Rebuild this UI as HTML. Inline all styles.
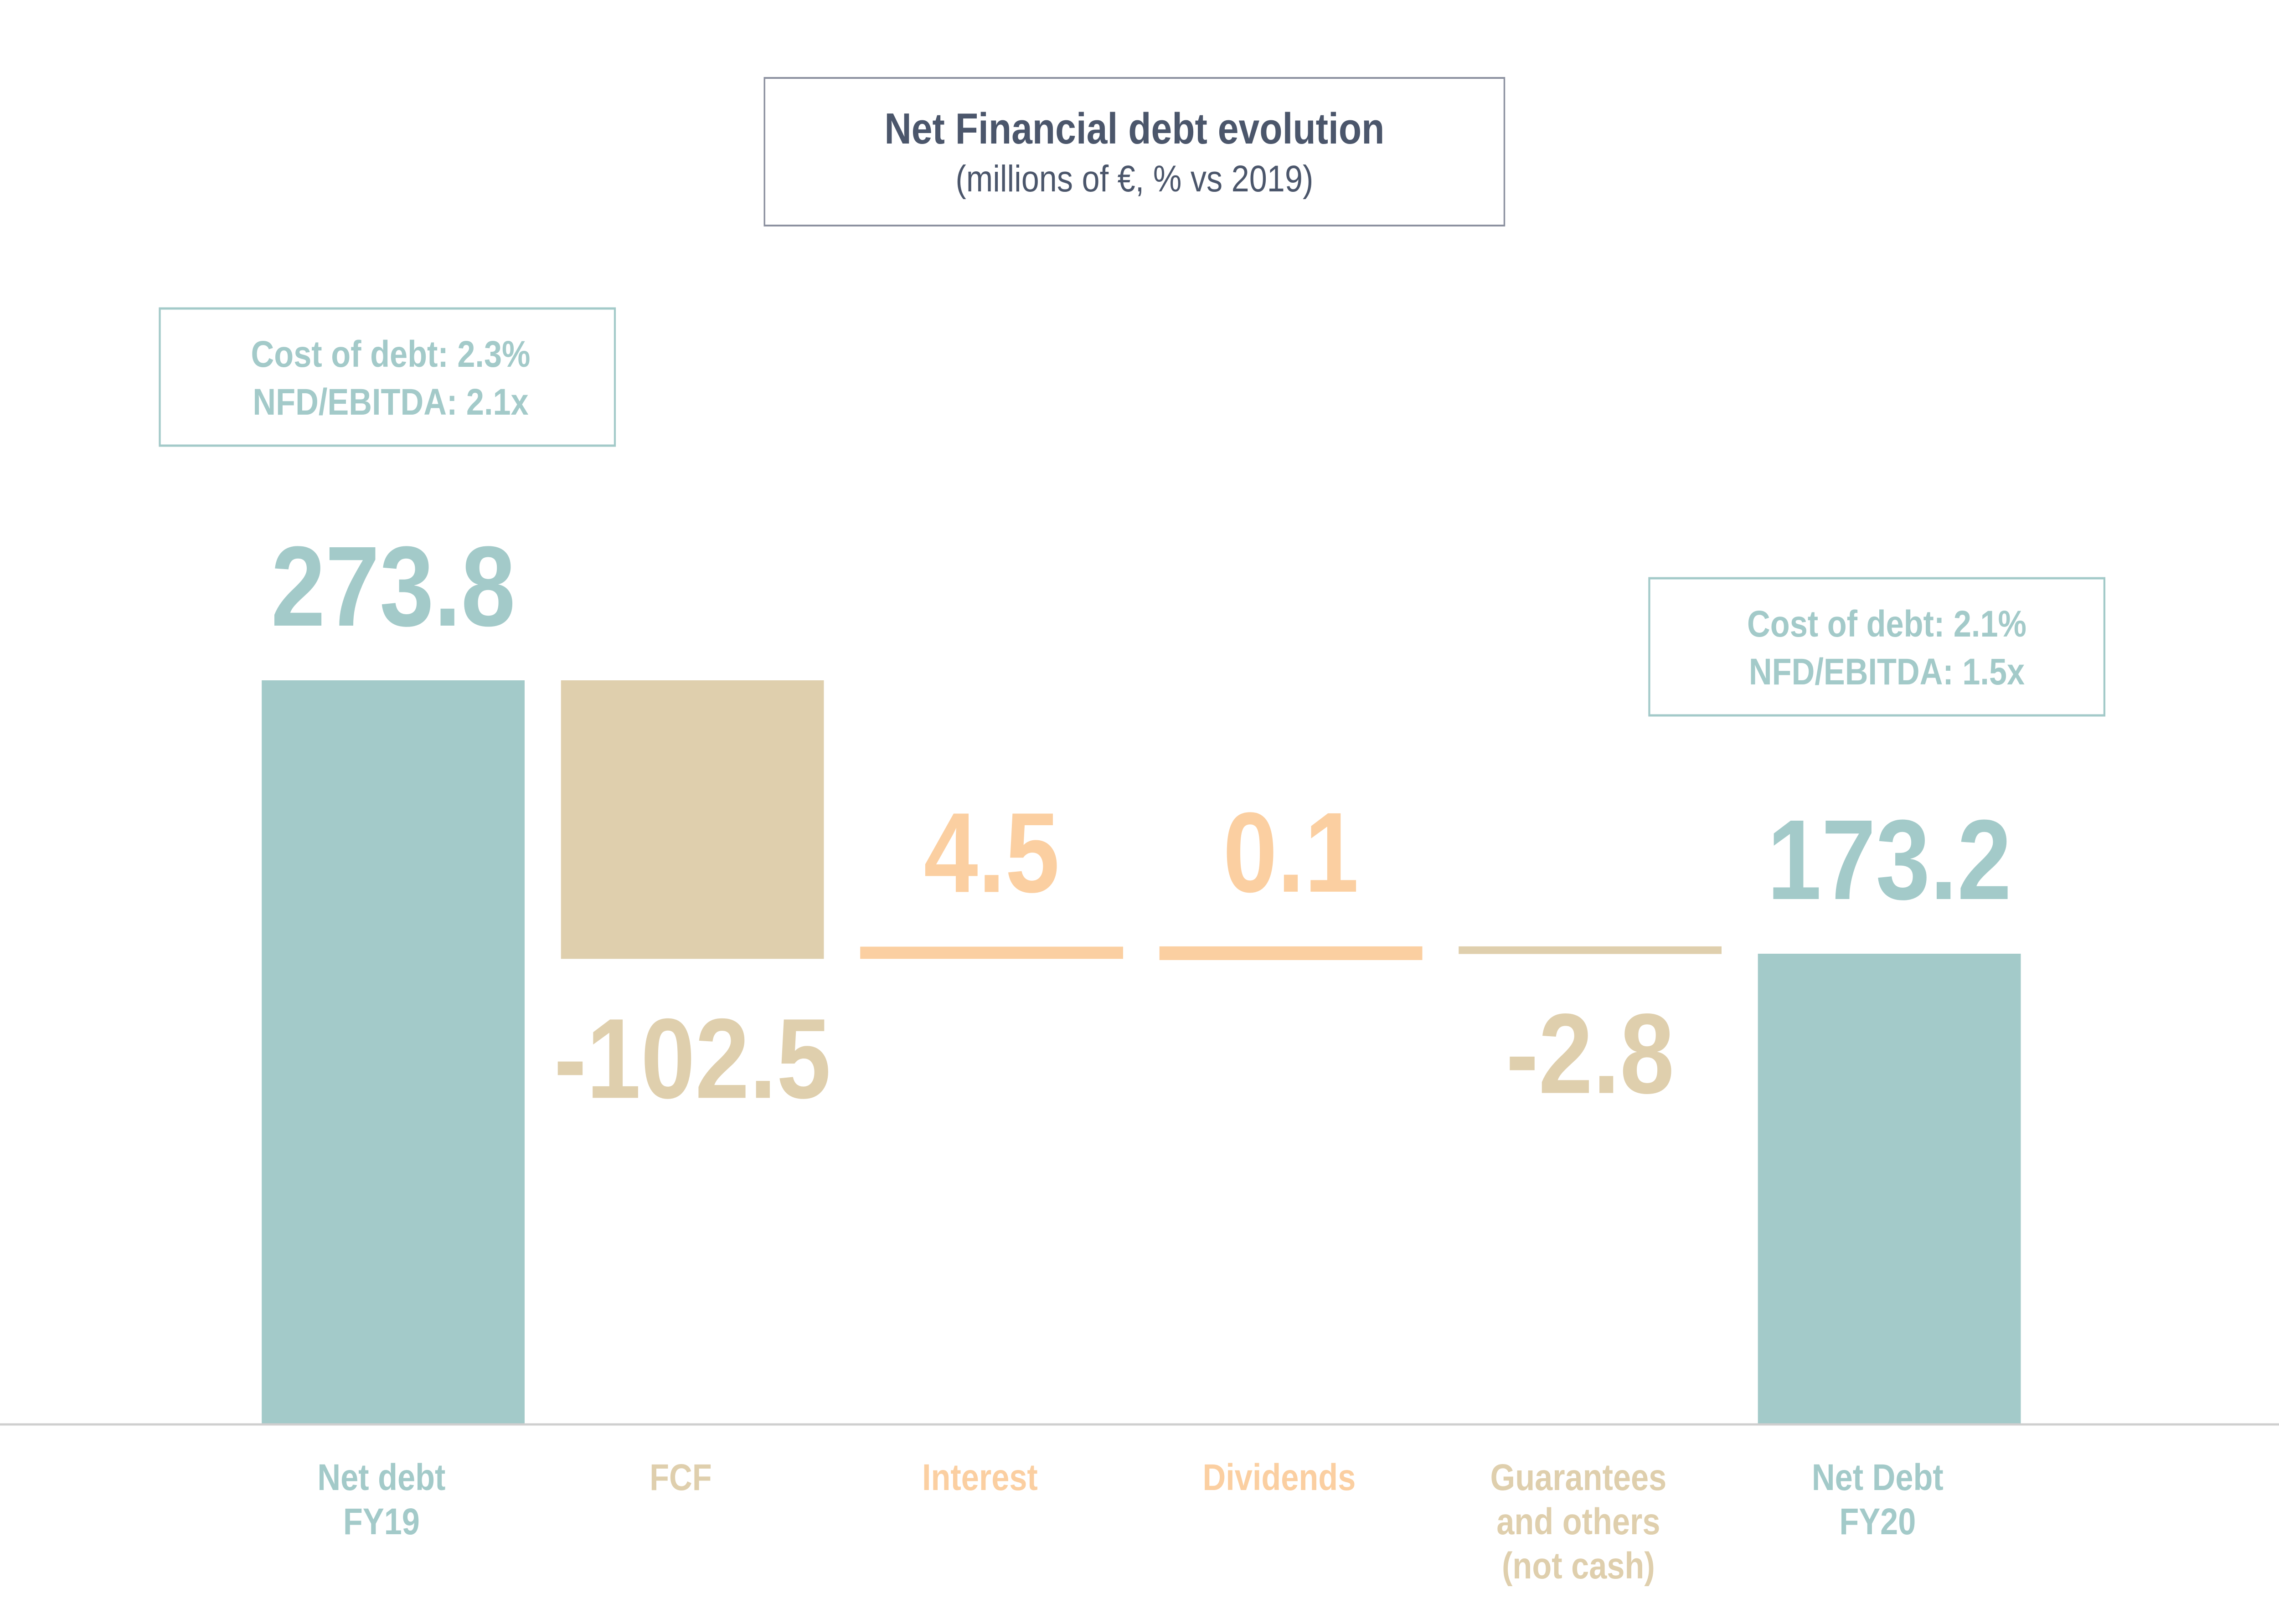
<!DOCTYPE html>
<html><head><meta charset="utf-8"><style>
html,body{margin:0;padding:0;background:#fff;width:100%;height:100%;overflow:hidden;}
svg{display:block;font-family:"Liberation Sans",sans-serif;width:100vw;height:100vh;}
</style></head><body>
<svg id="chart" viewBox="0 0 5834 3564" preserveAspectRatio="none" xmlns="http://www.w3.org/2000/svg">
<g>
<rect x="1957" y="171" width="1894" height="324" fill="#fff" stroke="#8c91a0" stroke-width="4"/>
<text x="2904" y="315" text-anchor="middle" font-size="96" font-weight="bold" fill="#4b566b">Net Financial debt evolution</text>
<text x="2904" y="420" text-anchor="middle" font-size="82" fill="#4b566b">(millions of €, % vs 2019)</text>
</g>
<g>
<rect x="409" y="677" width="1165" height="301" fill="#fff" stroke="#a3cac9" stroke-width="5"/>
<text x="1000" y="805" text-anchor="middle" font-size="82" font-weight="bold" fill="#a3cac9">Cost of debt: 2.3%</text>
<text x="1000" y="910" text-anchor="middle" font-size="82" font-weight="bold" fill="#a3cac9">NFD/EBITDA: 2.1x</text>
</g>
<g>
<rect x="4222" y="1269" width="1165" height="301" fill="#fff" stroke="#a3cac9" stroke-width="5"/>
<text x="4830" y="1397" text-anchor="middle" font-size="82" font-weight="bold" fill="#a3cac9">Cost of debt: 2.1%</text>
<text x="4830" y="1502" text-anchor="middle" font-size="82" font-weight="bold" fill="#a3cac9">NFD/EBITDA: 1.5x</text>
</g>
<g id="bars"></g>
<line x1="0" y1="3126" x2="5834" y2="3126" stroke="#cfcfcf" stroke-width="5"/>
</svg>
<script>
const categories = [["Net debt","FY19"],["FCF"],["Interest"],["Dividends"],["Guarantees","and others","(not cash)"],["Net Debt","FY20"]];
const values = [273.8, -102.5, 4.5, 0.1, -2.8, 173.2];
const valueLabels = ["273.8","-102.5","4.5","0.1","-2.8","173.2"];
const types = ["total","delta","delta","delta","delta","total"];
const NS="http://www.w3.org/2000/svg";
const baseY=3126, pxPerUnit=1633/273.8;
const y=v=>baseY-v*pxPerUnit;
const x0=670, step=766, bw=673;
const xPos=i=>x0+i*step;
const colors={total:"#a3cac9",neg:"#dfcfad",pos:"#fbcfa1"};
const g=document.getElementById('bars');
function mk(tag,attrs){const e=document.createElementNS(NS,tag);for(const k in attrs)e.setAttribute(k,attrs[k]);return e;}
let run=0;
values.forEach((v,i)=>{
  let top,bot,col;
  if(types[i]==="total"){run=v;top=y(v);bot=baseY;col=colors.total;}
  else{const a=run,b=run+v;run=b;top=y(Math.max(a,b));bot=y(Math.min(a,b));col=v<0?colors.neg:colors.pos;}
  if(bot-top<12){if(v<0)top=bot-24;else bot=top+30;}
  const r=mk('rect',{x:xPos(i),y:top,width:bw,height:bot-top,fill:col});
  
  
  g.appendChild(r);
  const cx=xPos(i)+bw/2;
  const ly=(v<0&&types[i]==="delta")?bot+305:top-120;
  const t=mk('text',{x:cx,y:ly,'text-anchor':'middle','font-size':250,'font-weight':'bold',fill:col});
  t.textContent=valueLabels[i];
  
  
  g.appendChild(t);
  categories[i].forEach((line,j)=>{
    const c=mk('text',{x:cx-30,y:3270+j*97,'text-anchor':'middle','font-size':82,'font-weight':'bold',fill:col});
    c.textContent=line;
    
    
    g.appendChild(c);
  });
});
</script>
</body></html>
